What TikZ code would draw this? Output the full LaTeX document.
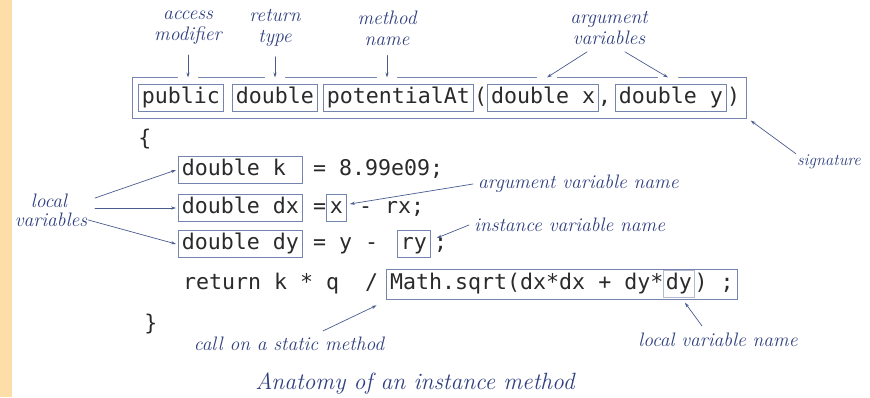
\documentclass[tikz,border=0pt]{standalone}
\usepackage{fontspec}
\newfontfamily\codefont{DejaVu Sans Mono}
\usetikzlibrary{arrows.meta,positioning,fit}
\definecolor{edgeblue}{HTML}{7484AE}
\definecolor{noteblue}{HTML}{2F3F7E}
\definecolor{arrowblue}{HTML}{4B5B8E}
\definecolor{codeink}{HTML}{2A2A2A}
\definecolor{sideorange}{HTML}{FDDEA9}
\tikzset{
  codetxt/.style={font=\codefont\fontsize{21.6}{24}\selectfont, text=codeink,
    text height=15pt, text depth=4.5pt, inner xsep=0pt, inner ysep=3.5pt},
  codebox/.style={codetxt, draw=edgeblue, line width=0.8pt, inner xsep=3.5pt},
  notetxt/.style={font=\fontsize{19.5}{21}\selectfont\itshape, text=noteblue,
    align=center, inner sep=1pt},
  pointer/.style={draw=arrowblue, line width=0.7pt, -{Stealth[length=5pt,width=3.2pt]}}
}

\begin{document}
\begin{tikzpicture}[x=1pt, y=-1pt, line cap=round]
  \useasboundingbox (0,0) rectangle (870,397);

  % Side strip
  \fill[sideorange] (0,0) rectangle (12,397);

  % Signature
  \node[codebox, anchor=west] (pub) at (138,98) {public};
  \node[codebox, anchor=west] (ret) at (232,98) {double};
  \node[codebox, anchor=west] (meth) at (323,98) {potentialAt};
  \node[codetxt, right=0pt of meth] (lpar) {(};
  \node[codebox, right=0pt of lpar] (argx) {double x};
  \node[codetxt, anchor=west] (comma) at (598,98) {,};
  \node[codebox, anchor=west] (argy) at (615,98) {double y};
  \node[codetxt, right=0pt of argy] (rpar) {)};
  \node[draw=edgeblue, line width=0.8pt, inner xsep=6pt, inner ysep=6.5pt,
        fit=(pub)(rpar)] (sig) {};

  % Gaps where the arrows come in
  \foreach \gx in {188,275,387,547,668}
    \draw[white, line width=2.4pt] (\gx-9,0 |- sig.north) -- (\gx+9,0 |- sig.north);

  % Body of the method
  \node[codetxt] (lbrace) at (145,140) {\{};
  \node[codebox, anchor=west] (lk) at (178,170) {double k\phantom{x}};
  \node[codetxt, anchor=west] (kval) at (313,170) {= 8.99e09;};
  \node[codebox, anchor=west] (ldx) at (178,208) {double dx};
  \node[codetxt, anchor=west] (dxeq) at (313,208) {=};
  \node[codebox, anchor=west] (xname) at (326,208) {x};
  \node[codetxt, anchor=west] (dxrest) at (359,208) {- rx;};
  \node[codebox, anchor=west] (ldy) at (178,244) {double dy};
  \node[codetxt, anchor=west] (dyeq) at (313,244) {= y -};
  \node[codebox, anchor=west] (ryname) at (397,244) {ry};
  \node[codetxt, anchor=west] (dysemi) at (434,244) {;};
  \node[codetxt, anchor=west] (retpart) at (183,284) {return k * q\ \ /};
  \node[codetxt, anchor=west] (sqrtA) at (390,284) {Math.sqrt(dx*dx + dy*};
  \node[codebox, draw=edgeblue!55, inner xsep=2pt, right=0pt of sqrtA] (dyname) {dy};
  \node[codetxt, right=0pt of dyname] (sqrtB) {) ;};
  \node[draw=edgeblue, line width=0.8pt, inner xsep=4pt, inner ysep=1.5pt,
        fit=(sqrtA)(sqrtB)] (mcall) {};
  \node[codetxt] (rbrace) at (151,325) {\}};

  % Labels on top
  \node[notetxt] (acc) at (188,28) {access\\modifier};
  \node[notetxt] (rtype) at (275,28) {return\\type};
  \node[notetxt] (mname) at (387,28) {method\\name};
  \node[notetxt] (avars) at (609,28) {argument\\variables};
  \coordinate (avL) at (547,0 |- sig.north);
  \coordinate (avR) at (668,0 |- sig.north);

  \draw[pointer] ([yshift=-9pt]acc.south) -- (acc.south |- sig.north);
  \draw[pointer] ([yshift=-9pt]rtype.south) -- (rtype.south |- sig.north);
  \draw[pointer] ([yshift=-9pt]mname.south) -- (mname.south |- sig.north);
  \draw[pointer] ([shift={(-22pt,-6pt)}]avars.south) -- (avL);
  \draw[pointer] ([shift={(16pt,-6pt)}]avars.south) -- (avR);

  % Signature
  \node[notetxt, font=\fontsize{16.5}{18}\selectfont\itshape] (siglab) at (829,162) {signature};
  \draw[pointer] (siglab.north west) -- ([shift={(4pt,-2pt)}]sig.south east);

  % Local variables
  \node[notetxt] (lvA) at (49,201) {local};
  \node[notetxt] (lvB) at (51,220) {variables};
  \coordinate (lvTop) at (95,198);
  \coordinate (lvMid) at (95,208);
  \draw[pointer] (lvTop) -- ([xshift=-2pt]lk.west);
  \draw[pointer] (lvMid) -- ([xshift=-2pt]ldx.west);
  \draw[pointer] (lvB.east) -- ([xshift=-2pt]ldy.west);

  % Names on the right
  \node[notetxt, anchor=west] (avname) at (477,184) {argument variable name};
  \draw[pointer] ([xshift=-4pt]avname.west) -- ([shift={(3pt,4pt)}]xname.east);
  \node[notetxt, anchor=west] (ivname) at (473,225) {instance variable name};
  \draw[pointer] ([xshift=-4pt]ivname.west) -- ([shift={(6pt,6pt)}]ryname.east);

  % Bottom notes
  \node[notetxt] (callnote) at (289,344) {call on a static method};
  \draw[pointer] ([shift={(34pt,5pt)}]callnote.north) -- ([shift={(-9pt,-6pt)}]mcall.south west);
  \node[notetxt] (lvname) at (718,340) {local variable name};
  \draw[pointer] ([shift={(-16pt,6pt)}]lvname.north) -- ([shift={(6pt,-5pt)}]dyname.south);

  % Title
  \node[notetxt, font=\fontsize{23.5}{26}\selectfont\itshape] (title) at (415,383)
    {Anatomy of an instance method};

\end{tikzpicture}
\end{document}
